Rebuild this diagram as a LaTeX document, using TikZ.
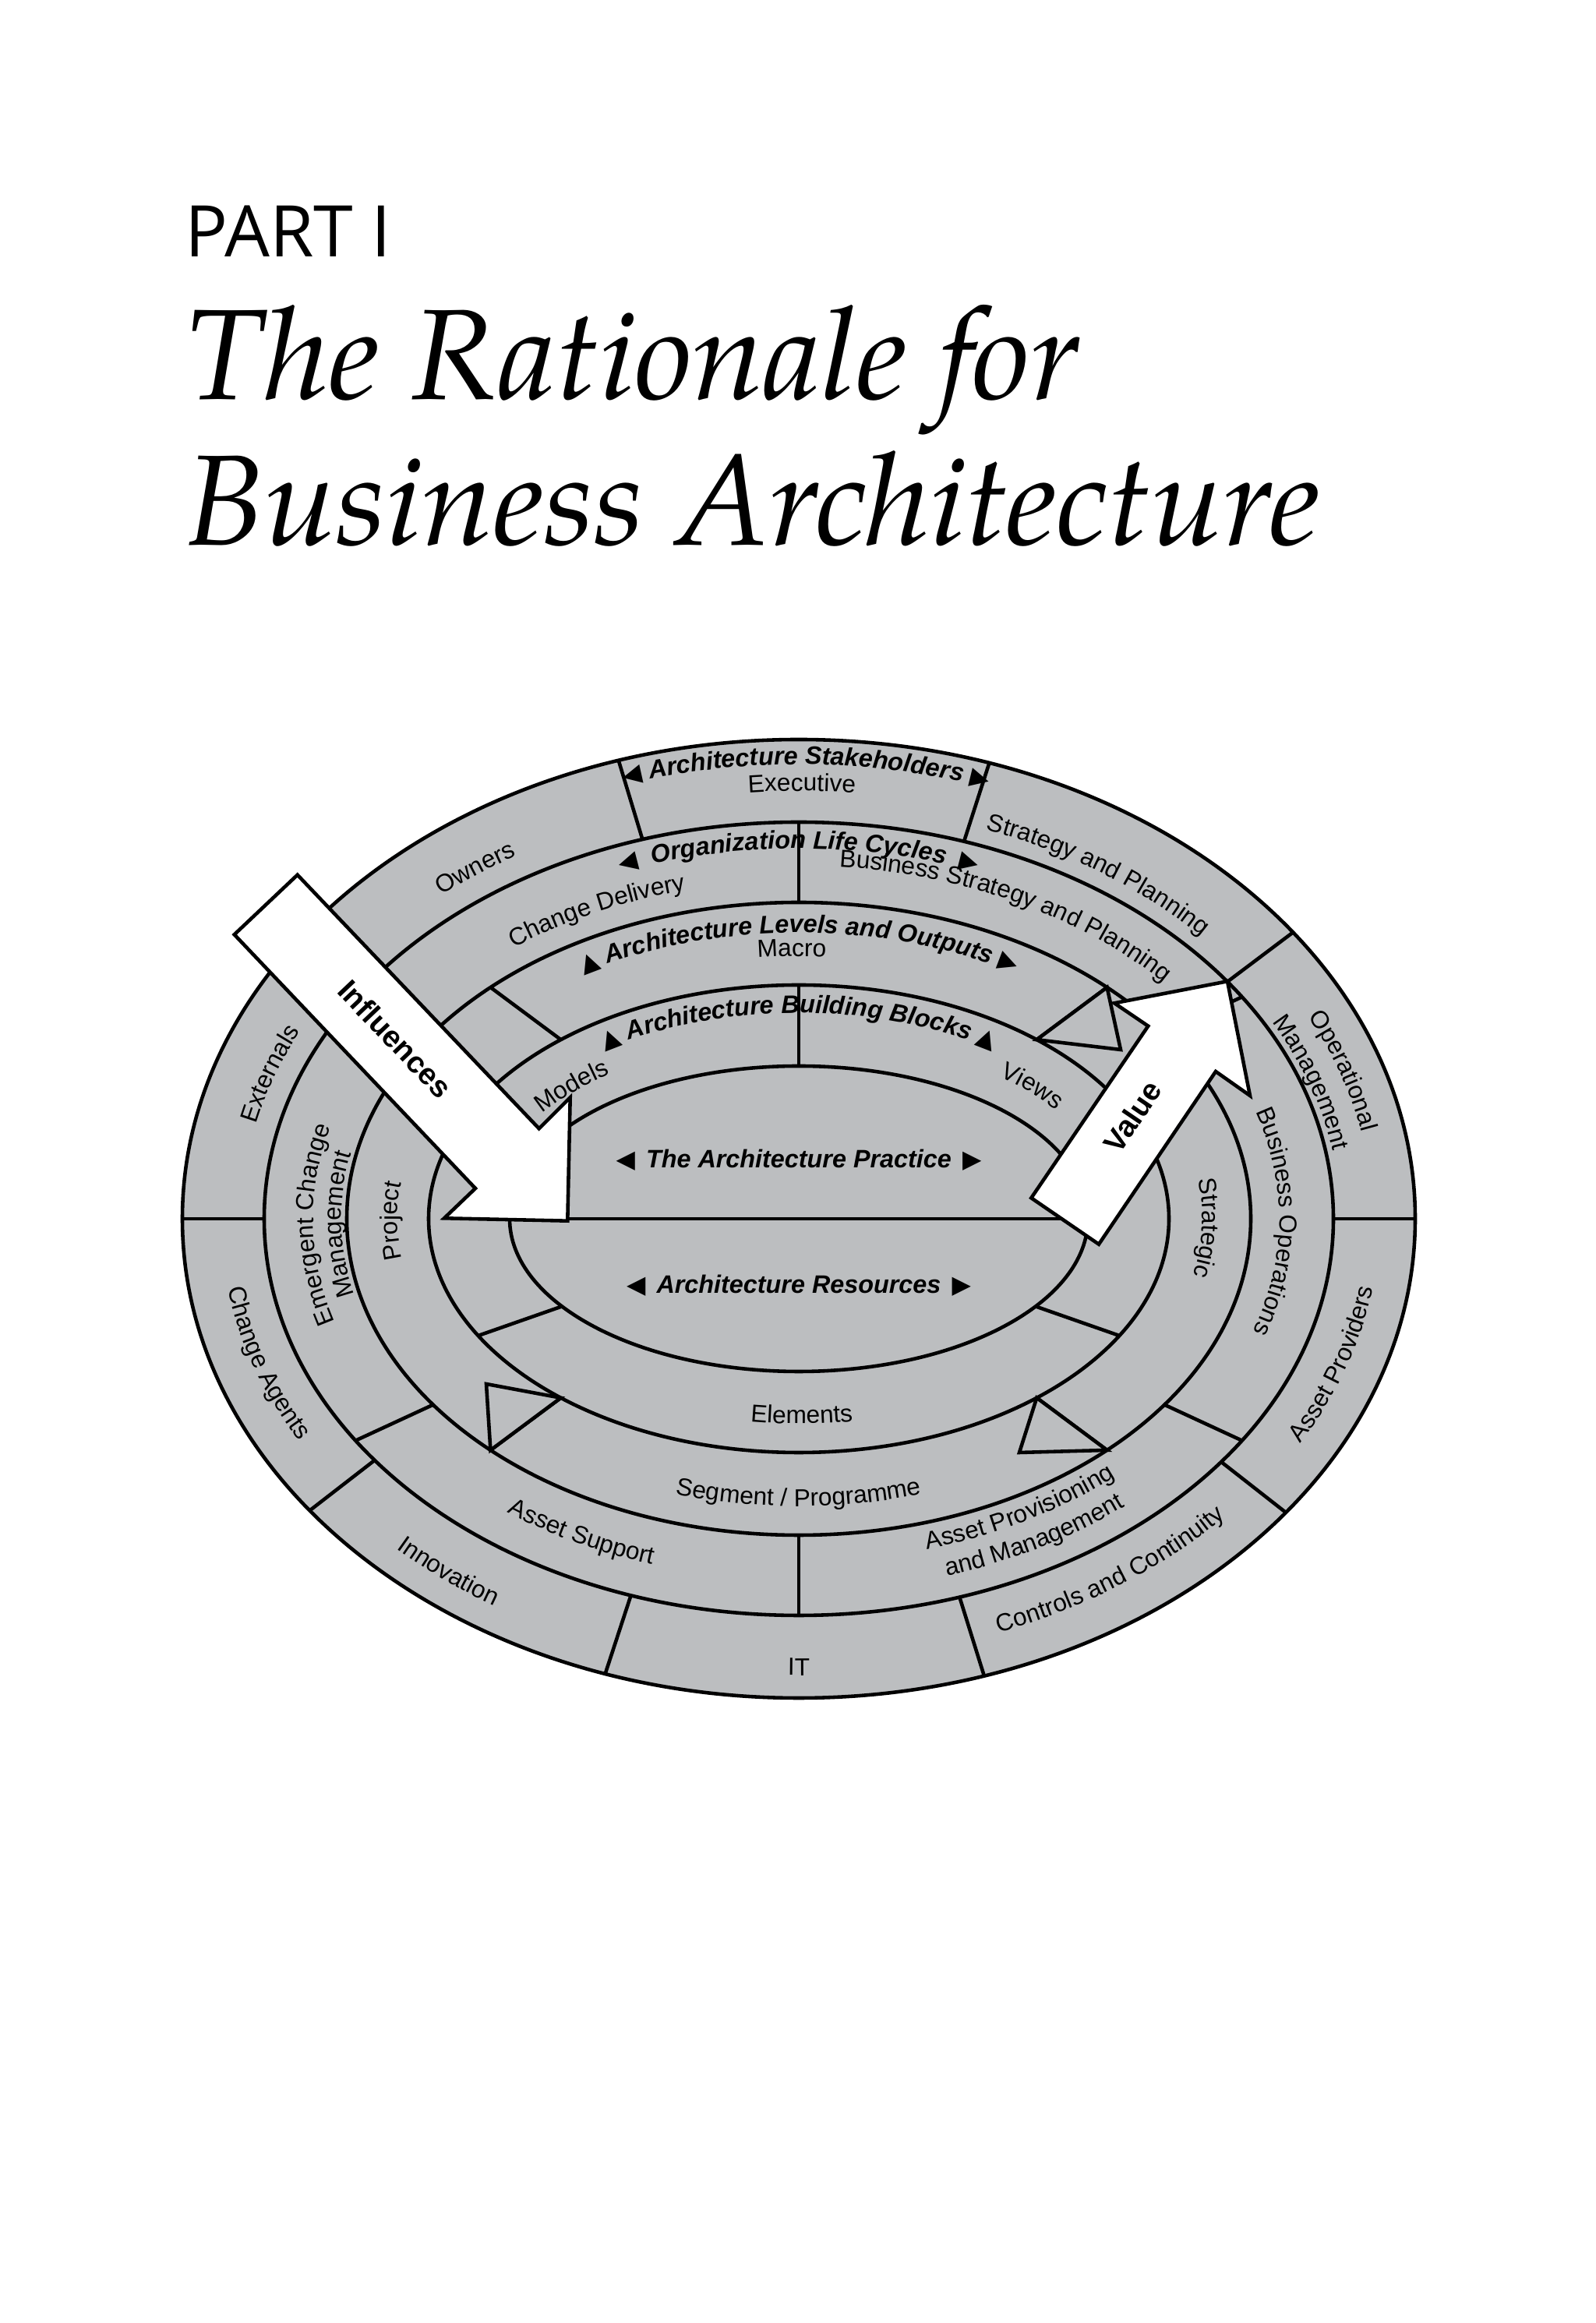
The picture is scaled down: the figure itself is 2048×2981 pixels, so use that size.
\documentclass[tikz,border=0pt]{standalone}
\usepackage{fontspec}
\setmainfont{Liberation Sans}
\newfontfamily\dejavu{DejaVu Sans}
\newfontfamily\partfont{Open Sans}
\newfontfamily\bookfont{texgyrepagella-italic.otf}
\usepackage{tikz}
\usetikzlibrary{calc, decorations.text}

\definecolor{ringgrey}{RGB}{188,190,192}

\newcommand{\lblfont}{\fontsize{9}{10}\selectfont}
\newcommand{\hdfont}{\fontsize{9.2}{10}\selectfont\bfseries\itshape}
\newcommand{\trifont}{\fontsize{9}{10}\selectfont\dejavu}

\tikzstyle{ring} = [draw=black, line width=1.3pt]
\tikzstyle{flag} = [draw=black, line width=1.3pt, fill=ringgrey, line join=miter]
\tikzstyle{bigarrow} = [draw=black, line width=1.3pt, fill=white, line join=miter]
\tikzstyle{curved} = [decorate, decoration={text along path, text align=center}]
\tikzstyle{hdnode} = [font=\hdfont, inner sep=0pt, anchor=base]
\tikzstyle{arrowtext} = [font=\fontsize{11}{12}\selectfont\bfseries, inner sep=0pt]
\tikzstyle{titletext} = [anchor=base west, inner sep=0pt]

% text along an elliptic arc round C: [half span], a, b, centre angle, 1 = clockwise / -1 = anticlockwise, text
% (the centre angle is corrected so that the middle of the arc length falls on it)
\newcommand{\ringlabel}[6][24]{%
  \pgfmathsetmacro\lblmid{#4-deg(0.5*rad(#1)^2*((#2/100)^2-(#3/100)^2)*sin(#4)*cos(#4)/((#2/100)^2*sin(#4)^2+(#3/100)^2*cos(#4)^2))}%
  \pgfmathsetmacro\lblfrom{\lblmid+#1*#5}%
  \pgfmathsetmacro\lblto{\lblmid-#1*#5}%
  \path[curved, decoration={text={|\lblfont|#6}}] ($(C)+(\lblfrom:#2 and #3)$)
    arc[start angle=\lblfrom, end angle=\lblto, x radius=#2, y radius=#3];}

\begin{document}
\begin{tikzpicture}[x=0.01cm, y=0.01cm]
  \useasboundingbox (0,0) rectangle (2048,2981);
  \coordinate (C) at (1025,1417);

  % Title
  \node (part) [titletext, font=\fontsize{26}{28}\selectfont\partfont] at (237,2651) {PART I};
  \node (title1) [titletext, font=\fontsize{47}{56}\selectfont\bookfont] at (238,2468) {The Rationale for};
  \node (title2) [titletext, font=\fontsize{47}{56}\selectfont\bookfont] at (238,2281) {Business Architecture};

  % Rings
  \filldraw[ring, fill=ringgrey] (C) ellipse [x radius=791, y radius=615];
  \foreach \ra/\rb in {686/509, 580/406, 475/300, 371/196}
    \draw[ring] (C) ellipse [x radius=\ra, y radius=\rb];
  \draw[ring] ($(C)+(180:371 and 196)$) -- ($(C)+(0:371 and 196)$);

  % Dividers
  \foreach \t in {0, 36.7, 72, 107, 143, 180, 217.5, 251.7, 287.5, 322.2}
    \draw[ring] ($(C)+(\t:791 and 615)$) -- ($(C)+(\t:686 and 509)$);
  \foreach \t/\u in {90/90, 34/36, -34/-36, -90/-90, 146/144, -146/-144}
    \draw[ring] ($(C)+(\t:686 and 509)$) -- ($(C)+(\u:580 and 406)$);
  \foreach \t/\u in {133/130, 47/50, -133/-130, -47/-50}
    \draw[ring] ($(C)+(\t:580 and 406)$) -- ($(C)+(\u:475 and 300)$);
  \foreach \t/\u in {90/90, -30/-35, -150/-145}
    \draw[ring] ($(C)+(\t:475 and 300)$) -- ($(C)+(\u:371 and 196)$);

  % Flags
  \draw[flag] ($(C)+(47:580 and 406)$) -- (1438,1634) -- ($(C)+(50:475 and 300)$) -- cycle;
  \draw[flag] ($(C)+(-133:580 and 406)$) -- (624,1205) -- ($(C)+(-130:475 and 300)$) -- cycle;
  \draw[flag] ($(C)+(-47:580 and 406)$) -- (1308,1117) -- ($(C)+(-50:475 and 300)$) -- cycle;

  % Stakeholders ring
  \ringlabel[60]{759}{583}{89.3}{1}{|\trifont|◀|\hdfont| Architecture Stakeholders |\trifont|▶}
  \ringlabel{725}{549}{89.7}{1}{Executive}
  \ringlabel{707}{531}{57}{1}{Strategy and Planning}
  \ringlabel{737}{561}{19.7}{1}{Operational}
  \ringlabel{695}{519}{19.7}{1}{Management}
  \ringlabel{746}{570}{-20}{-1}{Asset Providers}
  \ringlabel{742}{566}{-56.5}{-1}{Controls and Continuity}
  \ringlabel{762}{586}{-90}{-1}{IT}
  \ringlabel{756}{580}{-127}{-1}{Innovation}
  \ringlabel{742}{566}{-160}{-1}{Change Agents}
  \ringlabel{715}{539}{160}{1}{Externals}
  \ringlabel{716}{540}{125}{1}{Owners}

  % Life cycle ring
  \ringlabel[60]{652}{475}{90}{1}{|\trifont|◀|\hdfont|{\hspace{5pt}}Organization Life Cycles{\hspace{5pt}}|\trifont|▶}
  \ringlabel{611}{434}{115}{1}{Change Delivery}
  \ringlabel[30]{630}{453}{64.5}{1}{Business Strategy and Planning}
  \ringlabel{617}{440}{-0.5}{1}{Business Operations}
  \ringlabel{617}{440}{-62}{-1}{Asset Provisioning}
  \ringlabel{656}{479}{-62}{-1}{and Management}
  \ringlabel{641}{464}{-116.2}{-1}{Asset Support}
  \ringlabel{623}{446}{181}{1}{Emergent Change}
  \ringlabel{587}{410}{181}{1}{Management}

  % Levels ring
  \ringlabel[60]{541}{367}{90}{1}{|\trifont|▲|\hdfont| Architecture Levels and Outputs |\trifont|▶}
  \ringlabel{511}{337}{91}{1}{Macro}
  \ringlabel{515}{341}{180.5}{1}{Project}
  \ringlabel{543}{369}{-90}{-1}{Segment / Programme}
  \ringlabel{518}{344}{-2}{1}{Strategic}

  % Building blocks ring
  \ringlabel[60]{439}{264}{90}{1}{|\trifont|▲|\hdfont| Architecture Building Blocks |\trifont|▲}
  \ringlabel{406}{231}{135}{1}{Models}
  \ringlabel{410}{235}{44}{1}{Views}
  \ringlabel{438}{263}{-89.5}{-1}{Elements}

  % Practice
  \node (practice) [hdnode] at (1025,1482) {{\trifont◀}\hspace{4pt}The Architecture Practice\hspace{4pt}{\trifont▶}};
  \node (resources) [hdnode] at (1025,1321) {{\trifont◀}\hspace{4pt}Architecture Resources\hspace{4pt}{\trifont▶}};

  % Big arrows
  \draw[bigarrow] (381.7,1858.3) -- (691.7,1532.7) -- (731.7,1572.7) -- (728.3,1414.3)
    -- (570,1417.7) -- (610,1456) -- (300.7,1781.7) -- cycle;
  \node (influences) [arrowtext, rotate=-46.5] at (507,1648) {Influences};
  \draw[bigarrow] (1410,1384.3) -- (1560,1606) -- (1604,1575) -- (1575,1721.7)
    -- (1430,1693.7) -- (1473.3,1664.3) -- (1323.3,1443.7) -- cycle;
  \node (value) [arrowtext, rotate=55.8] at (1453,1548) {Value};
\end{tikzpicture}
\end{document}
